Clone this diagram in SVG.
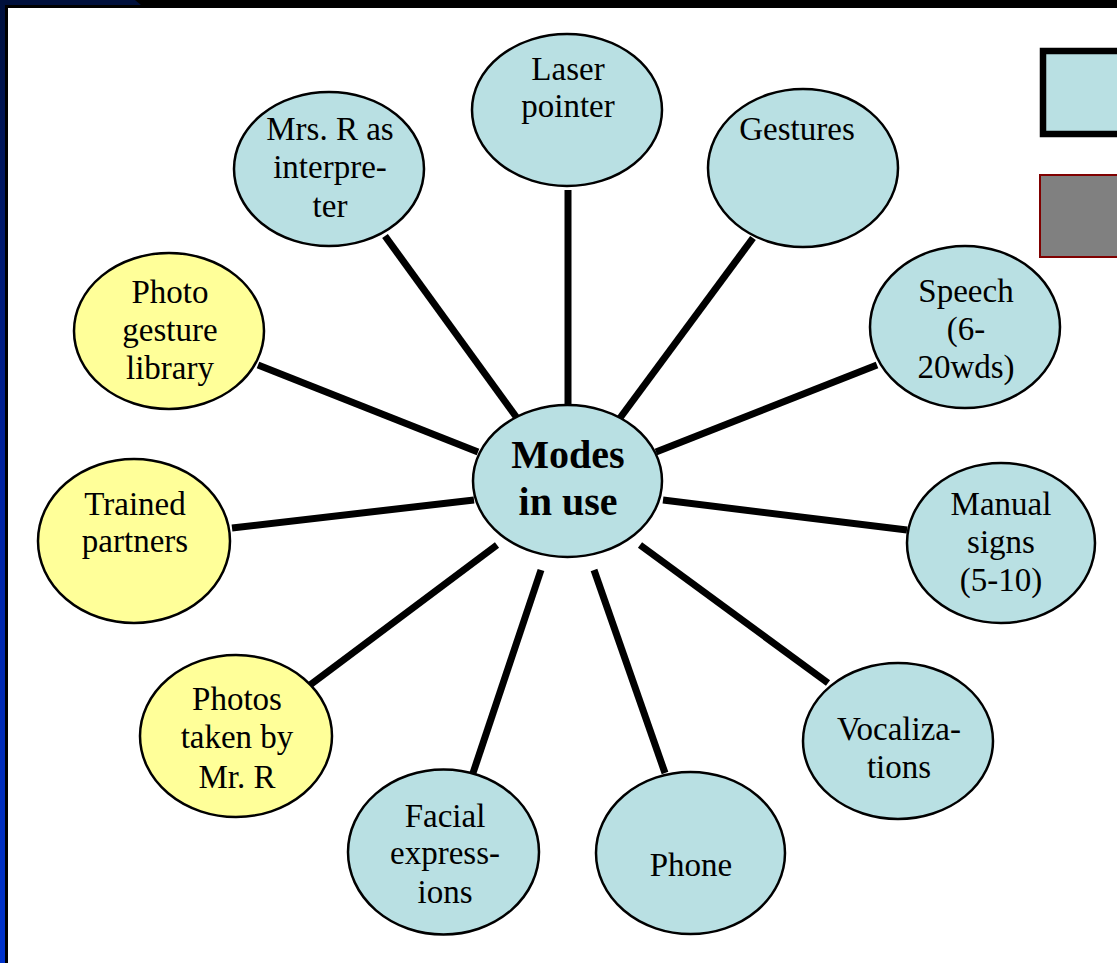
<svg xmlns="http://www.w3.org/2000/svg" width="1117" height="963" viewBox="0 0 1117 963">
<defs>
<linearGradient id="side" x1="0" y1="0" x2="0" y2="1">
<stop offset="0" stop-color="#00103c"/>
<stop offset="0.5" stop-color="#0022a0"/>
<stop offset="1" stop-color="#0033cc"/>
</linearGradient>
<style>
.n ellipse{stroke:#000;stroke-width:2.5}
.b ellipse{fill:#b9e0e3}
.y ellipse{fill:#ffff99}
text{font-family:"Liberation Serif","Times New Roman",serif;font-size:33px;fill:#000;text-anchor:middle}
.c text{font-weight:bold;font-size:40px}
#connectors line{stroke:#000;stroke-width:7}
</style>
</defs>
<rect x="0" y="0" width="1117" height="963" fill="#000"/>
<rect x="0" y="0" width="5" height="963" fill="url(#side)"/>
<polygon points="0,0 135,0 141,5 0,5" fill="#00103c"/>
<rect x="8" y="8" width="1109" height="955" fill="#fff"/>
<g id="legend">
<rect x="1043" y="51" width="90" height="83" fill="#b9e0e3" stroke="#000" stroke-width="6.5"/>
<rect x="1040" y="175" width="90" height="82" fill="#808080" stroke="#800000" stroke-width="2"/>
</g>
<g id="connectors">
<line x1="568" y1="190" x2="568" y2="405"/>
<line x1="620" y1="418" x2="753" y2="238"/>
<line x1="517" y1="418" x2="385" y2="236"/>
<line x1="478" y1="452" x2="258" y2="365"/>
<line x1="656" y1="452" x2="877" y2="365"/>
<line x1="474" y1="500" x2="232" y2="528"/>
<line x1="663" y1="500" x2="907" y2="530"/>
<line x1="497" y1="545" x2="310" y2="685"/>
<line x1="640" y1="545" x2="828" y2="683"/>
<line x1="541" y1="570" x2="473" y2="773"/>
<line x1="594" y1="570" x2="665" y2="773"/>
</g>
<g id="laser" class="n b"><ellipse cx="567" cy="110" rx="95" ry="76"/><text x="568" y="80">Laser</text><text x="568" y="117">pointer</text></g>
<g id="gestures" class="n b"><ellipse cx="803" cy="168" rx="95" ry="79"/><text x="797" y="140">Gestures</text></g>
<g id="mrsr" class="n b"><ellipse cx="329" cy="169" rx="95" ry="77"/><text x="330" y="140">Mrs. R as</text><text x="330" y="178">interpre-</text><text x="330" y="217">ter</text></g>
<g id="photolib" class="n y"><ellipse cx="169" cy="331" rx="95" ry="78"/><text x="170" y="303">Photo</text><text x="170" y="341">gesture</text><text x="170" y="379">library</text></g>
<g id="speech" class="n b"><ellipse cx="965" cy="327" rx="95" ry="81"/><text x="966" y="302">Speech</text><text x="966" y="340">(6-</text><text x="966" y="378">20wds)</text></g>
<g id="trained" class="n y"><ellipse cx="134" cy="541" rx="96" ry="82"/><text x="135" y="515">Trained</text><text x="135" y="552">partners</text></g>
<g id="manual" class="n b"><ellipse cx="1001" cy="543" rx="94" ry="80"/><text x="1001" y="515">Manual</text><text x="1001" y="553">signs</text><text x="1001" y="591">(5-10)</text></g>
<g id="photos" class="n y"><ellipse cx="236" cy="736" rx="96" ry="81"/><text x="237" y="710">Photos</text><text x="237" y="748">taken by</text><text x="237" y="788">Mr. R</text></g>
<g id="vocal" class="n b"><ellipse cx="898" cy="741" rx="95" ry="78"/><text x="899" y="740">Vocaliza-</text><text x="899" y="778">tions</text></g>
<g id="facial" class="n b"><ellipse cx="443.5" cy="852" rx="95.5" ry="82.5"/><text x="445" y="827">Facial</text><text x="445" y="864">express-</text><text x="445" y="903">ions</text></g>
<g id="phone" class="n b"><ellipse cx="690.5" cy="853" rx="94.5" ry="81"/><text x="691" y="876">Phone</text></g>
<g id="center" class="n b c"><ellipse cx="567.5" cy="481" rx="94.5" ry="76"/><text x="568" y="468">Modes</text><text x="568" y="515">in use</text></g>
</svg>
